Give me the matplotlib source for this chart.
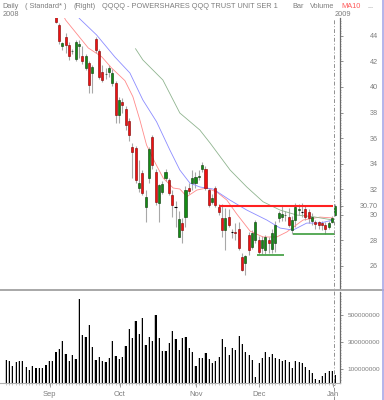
import numpy as np
import matplotlib
matplotlib.use("Agg")
import matplotlib.pyplot as plt
from matplotlib.lines import Line2D

plt.rcParams['font.family'] = ['Liberation Sans', 'DejaVu Sans']

# daily bars, mid Aug 2008 -> Jan 2 2009 (first 15 are above the visible price range)
opens = np.array([
    47.2, 47.0, 47.6, 48.1, 47.6, 46.9, 46.9, 47.3, 47.5, 46.8, 47.1, 47.4, 47.8, 47.6, 46.9,
    45.5, 44.85, 43.24, 43.95, 43.3, 42.8, 42.2, 43.2, 42.4, 41.5, 41.85, 41.1, 43.8, 42.8, 41.2,
    41.0, 41.2, 40.3, 40.3, 37.8, 38.85, 38.3, 37.3, 35.3, 35.2, 32.1, 33.25, 30.6, 32.9, 36.1,
    33.3, 30.9, 31.8, 32.9, 32.7, 31.5, 30.6, 28.25, 29.3, 29.8, 32.1, 32.5, 32.5, 32.95, 33.6,
    33.6, 31.9, 31.0, 32.1, 30.6, 29.7, 28.8, 29.8, 28.62, 28.65, 28.9, 26.7, 26.2, 28.4, 27.45,
    28.0, 28.0, 27.4, 27.2, 28.0, 27.3, 27.75, 29.7, 29.8, 29.95, 29.8, 28.8, 29.6, 30.35, 30.2,
    30.4, 30.2, 29.5, 29.4, 29.4, 29.35, 29.2, 29.0, 29.4, 30.0])
highs = np.array([
    47.5, 47.9, 48.3, 48.4, 47.9, 47.2, 47.6, 47.9, 47.8, 47.3, 47.7, 48.2, 48.1, 47.9, 47.3,
    46.0, 45.0, 43.55, 44.2, 43.5, 43.0, 43.7, 43.7, 43.2, 42.6, 42.0, 41.7, 43.95, 43.0, 41.7,
    41.5, 41.7, 41.4, 40.5, 39.2, 39.1, 38.5, 37.6, 35.6, 35.4, 34.3, 33.5, 31.9, 35.3, 36.2,
    33.6, 32.4, 32.6, 33.6, 32.9, 31.9, 31.1, 30.3, 29.7, 32.2, 32.5, 33.5, 33.3, 33.5, 34.1,
    33.8, 32.1, 31.6, 32.2, 30.8, 30.8, 30.5, 30.4, 28.9, 29.3, 29.4, 27.0, 26.8, 28.6, 28.8,
    29.6, 28.3, 28.3, 28.4, 28.2, 28.9, 29.5, 30.3, 30.7, 30.3, 30.5, 29.9, 30.9, 30.8, 30.9,
    30.7, 30.4, 30.1, 29.6, 29.5, 29.5, 29.4, 29.5, 29.9, 30.85])
lows = np.array([
    46.8, 46.7, 47.3, 47.3, 46.5, 46.6, 46.6, 47.0, 46.5, 46.5, 46.8, 47.1, 47.2, 46.4, 45.8,
    45.0, 43.4, 42.9, 42.7, 42.1, 42.6, 42.0, 42.3, 41.8, 41.3, 39.5, 39.5, 42.7, 40.6, 40.4,
    40.6, 40.8, 40.1, 37.2, 37.2, 38.0, 36.6, 35.8, 32.9, 32.5, 31.8, 31.5, 29.4, 32.5, 33.6,
    30.75, 29.4, 31.6, 32.6, 31.5, 29.8, 29.0, 28.2, 27.8, 29.0, 31.6, 31.9, 32.1, 32.7, 33.3,
    31.9, 30.6, 30.8, 30.6, 30.0, 28.2, 27.2, 29.0, 28.15, 28.0, 27.2, 25.6, 25.25, 26.8, 27.3,
    27.8, 26.9, 26.9, 26.9, 27.0, 27.0, 27.1, 29.4, 29.5, 29.5, 29.0, 28.5, 29.0, 30.0, 29.8,
    29.6, 29.3, 29.2, 28.9, 28.9, 28.8, 28.5, 28.9, 29.3, 29.9])
closes = np.array([
    47.0, 47.6, 48.0, 47.5, 46.8, 46.9, 47.3, 47.6, 46.8, 47.0, 47.4, 47.9, 47.5, 46.7, 46.1,
    45.1, 43.6, 43.43, 43.3, 42.4, 42.85, 43.55, 43.35, 42.05, 42.4, 40.15, 41.6, 42.9, 40.8, 40.55,
    41.05, 41.5, 41.1, 37.8, 39.0, 38.6, 37.0, 36.2, 34.9, 32.7, 32.5, 31.7, 31.4, 35.1, 33.9,
    31.0, 32.3, 32.4, 33.3, 31.7, 30.75, 30.62, 29.65, 28.8, 31.9, 31.85, 32.9, 32.95, 33.0, 33.9,
    32.1, 30.75, 31.3, 30.75, 30.2, 28.8, 29.7, 29.2, 28.6, 28.55, 27.4, 25.65, 26.75, 27.2, 28.55,
    29.4, 27.05, 28.0, 28.2, 27.8, 28.55, 29.2, 30.1, 30.05, 30.0, 29.2, 29.6, 30.6, 30.4, 30.22,
    29.8, 29.7, 29.8, 29.25, 29.2, 29.15, 28.9, 29.35, 29.7, 30.7])
volumes = np.array([
    167, 159, 122, 152, 157, 157, 117, 93, 125, 105, 105, 110, 132, 159, 159, 224, 248, 310, 211, 162,
    204, 174, 619, 352, 340, 426, 261, 164, 187, 159, 150, 179, 307, 196, 174, 187, 273, 394, 327, 456,
    357, 476, 278, 340, 310, 500, 327, 233, 236, 290, 381, 322, 239, 327, 340, 258, 224, 122, 179, 179,
    221, 174, 142, 159, 187, 320, 261, 204, 253, 241, 345, 283, 226, 204, 164, 38, 147, 182, 228, 189,
    209, 184, 174, 159, 167, 153, 107, 160, 152, 147, 117, 93, 68, 26, 18, 50, 73, 85, 85, 55]) * 1e6

# moving averages (bar index, price)
ma10_x = [16.5, 18.0, 24.8, 28.8, 31.8, 35.8, 38.2, 40.3, 42.3, 44.8, 47.3, 50.3, 52.3, 54.4, 57.4,
          60.4, 63.4, 66.4, 69.4, 73.4, 77.3, 81.4, 84.4, 89.3, 94.4, 98.3]
ma10_y = [46.0, 45.25, 43.06, 42.38, 41.49, 40.5, 39.24, 37.41, 35.45, 34.1, 32.86, 32.08, 32.0, 31.4, 31.92,
          32.08, 31.76, 31.14, 30.04, 28.7, 28.24, 28.24, 28.63, 29.57, 29.8, 29.73]
ma20_x = [20.0, 22.3, 27.3, 32.8, 37.3, 41.2, 45.3, 49.3, 52.3, 55.3, 58.3, 62.3, 67.3, 72.4, 78.4,
          82.4, 86.3, 90.4, 94.4, 98.3]
ma20_y = [46.0, 45.33, 44.08, 42.35, 41.1, 38.98, 37.28, 35.06, 33.49, 32.47, 32.16, 32.0, 31.14, 30.35, 29.57,
          28.94, 28.78, 29.33, 29.33, 29.57]
ma50_x = [39.0, 41.2, 47.2, 52.3, 58.3, 61.4, 67.4, 72.4, 77.3, 82.4, 87.4, 92.3, 98.3]
ma50_y = [43.0, 42.12, 40.55, 37.96, 36.63, 35.6, 33.49, 32.16, 31.0, 30.35, 29.96, 29.83, 29.57]

# drawn trend lines: level, from bar, to bar
red_level, red_from, red_to = 30.70, 64.0, 98.3
green_levels = [28.47, 26.82]
green_from = [86.3, 75.5]
green_to = [98.9, 83.6]

price_ticks = [26, 28, 30, 30.70, 32, 34, 36, 38, 40, 42, 44]
price_labels = ['26', '28', '30', '30.70', '32', '34', '36', '38', '40', '42', '44']
vol_ticks = [100e6, 300e6, 500e6]
vol_labels = ['100000000', '300000000', '500000000']
month_start = [14, 35, 58, 77, 99]
month_labels = ['Sep', 'Oct', 'Nov', 'Dec', 'Jan']

grey = '#7d7d7d'
W, H = 384, 400
fig = plt.figure(figsize=(W / 100, H / 100), dpi=100)
ax = fig.add_axes([0, 1 - 288.5 / H, 340 / W, (288.5 - 18) / H])
axv = fig.add_axes([0, 1 - 382.5 / H, 340 / W, (382.5 - 292) / H], sharex=ax)

idx = np.arange(len(opens))

# candles
ax.vlines(idx, lows, highs, color='#a8a8a8', lw=0.8, zorder=1)
up = closes > opens + 0.04
down = closes < opens - 0.04
flat = ~up & ~down
ax.bar(idx[up], closes[up] - opens[up], bottom=opens[up], width=0.62,
       color='#138c13', edgecolor='#073507', lw=0.4, zorder=3)
ax.bar(idx[down], opens[down] - closes[down], bottom=closes[down], width=0.62,
       color='#f01010', edgecolor='#7a0000', lw=0.4, zorder=3)
ax.hlines(closes[flat], idx[flat] - 0.35, idx[flat] + 0.35, color='black', lw=0.8, zorder=3)

# moving averages
ax.plot(ma10_x, ma10_y, color='#ff8a8a', lw=0.6, zorder=2)
ax.plot(ma20_x, ma20_y, color='#8c8cff', lw=0.6, zorder=2)
ax.plot(ma50_x, ma50_y, color='#8fb48f', lw=0.6, zorder=2)

# trend lines
ax.hlines(red_level, red_from, red_to, color='#ff2020', lw=1.5, zorder=4)
ax.hlines(green_levels, green_from, green_to, color='#3c9c3c', lw=1.2, zorder=4)

ax.set_xlim(-1.71, 100.4)
ax.set_ylim(24.2, 45.41)
for s in ['top', 'left', 'bottom']:
    ax.spines[s].set_visible(False)
ax.spines['right'].set_color('#6a6a6a')
ax.spines['right'].set_linewidth(0.9)
ax.yaxis.tick_right()
ax.set_yticks(price_ticks, price_labels)
ax.set_yticks(np.arange(24.4, 45.4, 0.2), minor=True)
ax.tick_params(axis='y', which='major', length=2, width=0.6, color=grey, labelcolor=grey,
               labelsize=5.2, pad=25.4)
ax.tick_params(axis='y', which='minor', length=1, width=0.4, color=grey)
ax.tick_params(axis='x', which='both', bottom=False, labelbottom=False)
for lbl in ax.get_yticklabels():
    lbl.set_ha('right')

# volume
axv.bar(idx - 0.17, volumes, width=0.34, color='#c4c4c4', lw=0)
axv.bar(idx + 0.13, volumes, width=0.36, color='black', lw=0)
axv.set_ylim(0, 670e6)
for s in ['top', 'left']:
    axv.spines[s].set_visible(False)
axv.spines['right'].set_color('#6a6a6a')
axv.spines['right'].set_linewidth(0.9)
axv.spines['bottom'].set_color('#b0b0b0')
axv.spines['bottom'].set_linewidth(0.8)
axv.yaxis.tick_right()
axv.set_yticks(vol_ticks, vol_labels)
axv.set_yticks(np.arange(20e6, 670e6, 20e6), minor=True)
axv.tick_params(axis='y', which='major', length=2, width=0.6, color=grey, labelcolor=grey,
                labelsize=4.6, pad=26.8)
axv.tick_params(axis='y', which='minor', length=1, width=0.4, color=grey)
for lbl in axv.get_yticklabels():
    lbl.set_ha('right')
axv.set_xticks([m - 0.8 for m in month_start], month_labels)
axv.set_xticks(idx, minor=True)
axv.tick_params(axis='x', which='major', length=3, width=0.6, color='#909090', labelcolor=grey,
                labelsize=5.4, pad=3)
axv.tick_params(axis='x', which='minor', length=1.2, width=0.4, color='#a0a0a0')

# title row
ty = 1 - 6 / H
fig.text(2 / W, ty, 'Daily', color=grey, fontsize=5.3, va='center')
fig.text(25 / W, ty, '( Standard* )', color=grey, fontsize=5.3, va='center')
fig.text(73 / W, ty, '(Right)', color=grey, fontsize=5.3, va='center')
fig.text(102 / W, ty, 'QQQQ - POWERSHARES QQQ TRUST UNIT SER 1', color=grey, fontsize=5.3, va='center')
fig.text(292 / W, ty, 'Bar', color=grey, fontsize=5.3, va='center')
fig.text(310 / W, ty, 'Volume', color=grey, fontsize=5.3, va='center')
fig.text(341 / W, ty, 'MA10', color='#ff5a5a', fontsize=5.3, va='center')
fig.text(367 / W, ty, '...', color=grey, fontsize=5.3, va='center')
fig.text(3 / W, 1 - 14 / H, '2008', color=grey, fontsize=5.3, va='center')
fig.text(335 / W, 1 - 14 / H, '2009', color=grey, fontsize=5.3, va='center')

# year separator, panel separator, right border
fig.canvas.draw()
yx = ax.transData.transform((month_start[-1] - 0.3, 30))[0] / W
fig.add_artist(Line2D([yx, yx], [0, 1 - 18 / H], transform=fig.transFigure, color='#909090',
                      lw=0.7, ls=(0, (4, 2, 1, 2))))
fig.add_artist(Line2D([0, 1], [1 - 289.5 / H] * 2, transform=fig.transFigure, color='#a8a8a8', lw=1.4))
fig.add_artist(Line2D([383 / W] * 2, [0, 1], transform=fig.transFigure, color='#a8a8e6', lw=1.2))

fig.savefig('out.png', dpi=100)
